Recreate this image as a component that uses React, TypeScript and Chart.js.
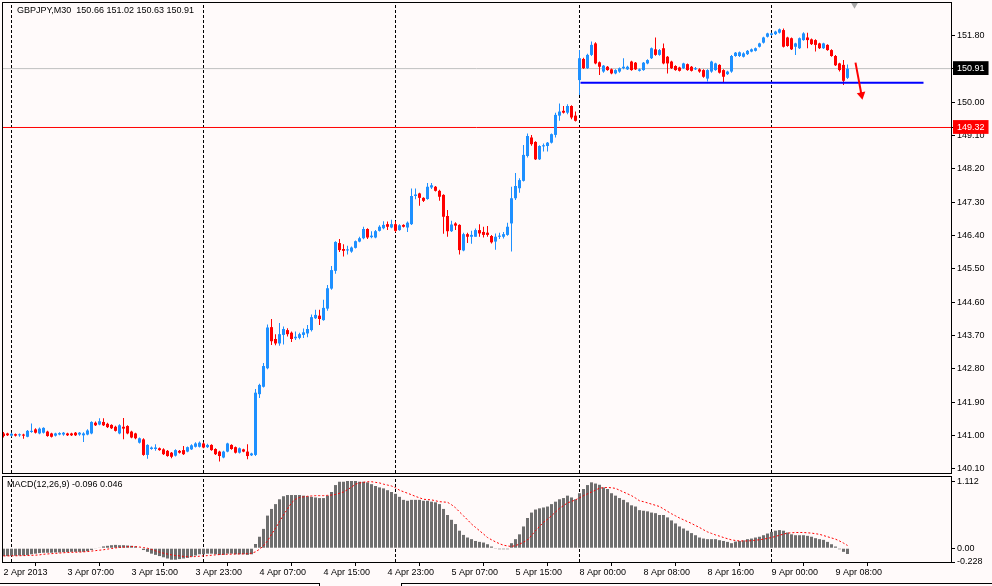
import React, { useEffect, useRef } from "react";
import { Chart, registerables } from "chart.js";

Chart.register(...registerables);

// ---------------- DATA ----------------
const opens = [
  141.06, 141.06, 141.00, 141.04, 141.01, 141.03, 140.97, 141.10, 141.17, 141.06,
  141.08, 141.11, 141.06, 141.00, 141.03, 141.03, 141.06, 141.06, 141.08, 141.03,
  141.01, 141.03, 141.06, 141.35, 141.30, 141.37, 141.32, 141.29, 141.24, 141.06,
  141.24, 141.26, 141.11, 141.06, 140.81, 140.90, 140.48, 140.64, 140.64, 140.66,
  140.63, 140.59, 140.54, 140.46, 140.59, 140.61, 140.57, 140.63, 140.70, 140.70,
  140.79, 140.69, 140.75, 140.64, 140.57, 140.41, 140.57, 140.75, 140.69, 140.54,
  140.63, 140.57, 140.47, 140.48, 142.12, 142.32, 142.82, 143.93, 143.61, 143.49,
  143.72, 143.85, 143.78, 143.63, 143.64, 143.72, 143.76, 143.85, 144.17, 144.24,
  144.12, 144.43, 144.97, 145.45, 146.20, 146.04, 146.00, 145.97, 146.07, 146.24,
  146.33, 146.58, 146.36, 146.35, 146.53, 146.60, 146.71, 146.62, 146.71, 146.55,
  146.69, 146.62, 146.71, 147.47, 147.54, 147.42, 147.39, 147.70, 147.72, 147.61,
  147.50, 146.93, 146.52, 146.73, 146.69, 146.00, 146.44, 146.37, 146.37, 146.55,
  146.50, 146.48, 146.39, 146.24, 146.37, 146.37, 146.42, 146.73, 147.41, 147.68,
  147.88, 148.55, 149.05, 148.93, 148.46, 148.81, 148.82, 148.91, 149.12, 149.64,
  149.77, 149.72, 149.90, 149.64, 150.60, 151.17, 150.92, 151.28, 151.59, 151.08,
  150.83, 150.96, 150.89, 150.78, 150.83, 150.92, 150.89, 151.10, 151.07, 150.85,
  150.87, 151.05, 151.19, 151.43, 151.28, 151.46, 151.23, 151.10, 150.98, 150.94,
  150.92, 151.03, 150.96, 150.89, 150.89, 150.87, 150.64, 150.83, 150.87, 151.01,
  150.87, 150.76, 150.83, 151.25, 151.25, 151.23, 151.30, 151.37, 151.39, 151.50,
  151.61, 151.77, 151.82, 151.84, 151.88, 151.95, 151.75, 151.73, 151.50, 151.46,
  151.68, 151.75, 151.70, 151.68, 151.59, 151.46, 151.55, 151.41, 151.25, 151.05,
  151.01, 150.66,
];
const highs = [
  141.10, 141.08, 141.08, 141.06, 141.06, 141.05, 141.15, 141.33, 141.20, 141.22,
  141.23, 141.13, 141.08, 141.08, 141.09, 141.10, 141.08, 141.08, 141.10, 141.10,
  141.09, 141.17, 141.39, 141.38, 141.47, 141.47, 141.35, 141.31, 141.27, 141.31,
  141.48, 141.28, 141.13, 141.08, 140.95, 140.93, 140.77, 140.71, 140.77, 140.68,
  140.66, 140.61, 140.56, 140.63, 140.61, 140.72, 140.71, 140.77, 140.82, 140.84,
  140.82, 140.78, 140.77, 140.66, 140.59, 140.59, 140.81, 140.77, 140.71, 140.68,
  140.65, 140.77, 140.54, 142.26, 142.40, 142.96, 144.00, 144.15, 143.74, 144.04,
  143.95, 143.90, 143.81, 143.81, 143.78, 143.89, 143.99, 144.27, 144.40, 144.40,
  144.67, 145.07, 145.58, 146.25, 146.31, 146.17, 146.13, 146.11, 146.27, 146.37,
  146.64, 146.60, 146.52, 146.55, 146.68, 146.79, 146.78, 146.83, 146.79, 146.71,
  146.71, 146.78, 147.67, 147.67, 147.56, 147.44, 147.82, 147.82, 147.74, 147.64,
  147.52, 147.09, 146.80, 146.76, 146.71, 146.48, 146.48, 146.53, 146.59, 146.71,
  146.64, 146.66, 146.42, 146.46, 146.48, 146.50, 146.75, 147.72, 148.09, 147.95,
  148.85, 149.16, 149.12, 148.95, 148.84, 148.89, 148.93, 149.16, 149.72, 149.97,
  149.90, 149.95, 149.92, 149.75, 151.41, 151.20, 151.31, 151.64, 151.62, 151.10,
  151.01, 150.98, 150.91, 150.89, 150.94, 151.19, 150.99, 151.12, 151.09, 150.91,
  151.09, 151.16, 151.48, 151.75, 151.44, 151.59, 151.25, 151.12, 151.00, 150.96,
  151.07, 151.05, 150.98, 150.95, 150.92, 150.89, 150.89, 151.12, 151.07, 151.03,
  150.89, 150.85, 151.28, 151.36, 151.37, 151.35, 151.41, 151.45, 151.48, 151.61,
  151.77, 151.88, 151.88, 151.93, 151.99, 151.99, 151.77, 151.75, 151.61, 151.75,
  151.89, 151.88, 151.72, 151.70, 151.61, 151.61, 151.57, 151.43, 151.28, 151.07,
  151.14, 151.02,
];
const lows = [
  140.95, 140.99, 140.98, 140.98, 140.97, 140.92, 140.96, 141.08, 141.06, 141.04,
  141.06, 140.97, 140.95, 140.98, 141.01, 141.00, 140.99, 140.99, 140.99, 141.00,
  140.83, 141.01, 141.04, 141.26, 141.28, 141.26, 141.21, 141.18, 141.11, 141.04,
  140.90, 141.04, 140.93, 140.90, 140.79, 140.46, 140.38, 140.62, 140.59, 140.59,
  140.48, 140.43, 140.39, 140.44, 140.52, 140.48, 140.55, 140.61, 140.68, 140.68,
  140.66, 140.67, 140.59, 140.48, 140.30, 140.39, 140.55, 140.62, 140.52, 140.52,
  140.55, 140.36, 140.45, 140.45, 142.02, 142.30, 142.79, 143.45, 143.44, 143.43,
  143.46, 143.68, 143.53, 143.58, 143.60, 143.64, 143.66, 143.81, 144.15, 143.99,
  144.10, 144.37, 144.94, 145.37, 145.96, 145.84, 145.89, 145.94, 146.05, 146.22,
  146.30, 146.31, 146.33, 146.33, 146.51, 146.57, 146.55, 146.60, 146.50, 146.53,
  146.62, 146.50, 146.69, 147.38, 147.21, 147.31, 147.37, 147.66, 147.59, 147.34,
  146.45, 146.37, 146.50, 146.55, 145.89, 145.98, 146.20, 146.18, 146.37, 146.37,
  146.35, 146.37, 146.19, 146.02, 146.31, 146.32, 146.40, 145.97, 147.36, 147.56,
  147.86, 148.51, 148.83, 148.44, 148.44, 148.67, 148.67, 148.89, 149.05, 149.50,
  149.70, 149.68, 149.54, 149.48, 150.20, 150.90, 150.90, 151.25, 151.03, 150.74,
  150.80, 150.85, 150.76, 150.76, 150.80, 150.89, 150.87, 150.85, 150.87, 150.83,
  150.85, 151.03, 151.17, 151.26, 151.26, 151.03, 150.78, 150.90, 150.85, 150.83,
  150.90, 150.85, 150.83, 150.87, 150.80, 150.66, 150.56, 150.80, 150.85, 150.78,
  150.55, 150.74, 150.80, 151.23, 151.22, 151.21, 151.28, 151.35, 151.37, 151.48,
  151.59, 151.75, 151.80, 151.82, 151.86, 151.48, 151.50, 151.41, 151.28, 151.44,
  151.66, 151.46, 151.55, 151.37, 151.44, 151.44, 151.39, 151.23, 150.98, 150.83,
  150.47, 150.63,
];
const closes = [
  140.99, 141.01, 141.05, 141.00, 141.03, 141.00, 141.13, 141.13, 141.08, 141.19,
  141.21, 140.99, 140.97, 141.06, 141.07, 141.08, 141.01, 141.01, 141.01, 141.08,
  141.06, 141.14, 141.37, 141.28, 141.39, 141.28, 141.23, 141.20, 141.13, 141.28,
  141.19, 141.06, 140.95, 140.93, 140.93, 140.48, 140.75, 140.68, 140.68, 140.61,
  140.50, 140.45, 140.43, 140.61, 140.54, 140.50, 140.69, 140.74, 140.79, 140.81,
  140.68, 140.75, 140.61, 140.50, 140.45, 140.57, 140.79, 140.64, 140.54, 140.66,
  140.57, 140.45, 140.52, 142.16, 142.37, 142.88, 143.92, 143.55, 143.49, 143.74,
  143.88, 143.74, 143.61, 143.67, 143.74, 143.79, 143.88, 144.20, 144.26, 144.15,
  144.45, 144.98, 145.47, 146.23, 146.01, 145.99, 146.03, 146.08, 146.25, 146.33,
  146.58, 146.35, 146.40, 146.52, 146.64, 146.69, 146.64, 146.71, 146.53, 146.68,
  146.64, 146.75, 147.47, 147.51, 147.42, 147.34, 147.72, 147.76, 147.61, 147.45,
  146.91, 146.52, 146.70, 146.67, 146.01, 146.44, 146.37, 146.42, 146.55, 146.46,
  146.42, 146.42, 146.22, 146.37, 146.40, 146.44, 146.64, 147.41, 147.74, 147.90,
  148.58, 149.09, 148.87, 148.46, 148.82, 148.84, 148.91, 149.14, 149.66, 149.75,
  149.72, 149.90, 149.59, 149.50, 151.19, 150.92, 151.28, 151.55, 151.05, 150.96,
  150.99, 150.87, 150.78, 150.87, 150.92, 150.96, 150.96, 150.87, 150.89, 150.89,
  151.07, 151.14, 151.46, 151.28, 151.41, 151.05, 151.05, 150.92, 150.87, 150.85,
  151.05, 150.87, 150.85, 150.92, 150.83, 150.69, 150.87, 151.10, 151.05, 150.80,
  150.69, 150.83, 151.25, 151.34, 151.35, 151.32, 151.39, 151.43, 151.46, 151.59,
  151.75, 151.86, 151.86, 151.91, 151.97, 151.50, 151.52, 151.43, 151.59, 151.73,
  151.86, 151.68, 151.57, 151.55, 151.46, 151.59, 151.41, 151.25, 151.00, 150.87,
  150.58, 150.91,
];

const macdMain = [
  -0.13, -0.13, -0.125, -0.125, -0.12, -0.12, -0.115, -0.10, -0.09, -0.08,
  -0.075, -0.075, -0.075, -0.07, -0.07, -0.065, -0.065, -0.06, -0.06, -0.06,
  -0.06, -0.05, -0.03, -0.01, 0.01, 0.03, 0.04, 0.05, 0.055, 0.05,
  0.05, 0.045, 0.04, 0.03, 0.01, -0.03, -0.06, -0.09, -0.11, -0.13,
  -0.15, -0.17, -0.19, -0.19, -0.18, -0.17, -0.16, -0.14, -0.12, -0.10,
  -0.10, -0.09, -0.09, -0.10, -0.11, -0.11, -0.09, -0.09, -0.10, -0.10,
  -0.10, -0.11, -0.10, 0.07, 0.19, 0.32, 0.54, 0.65, 0.73, 0.81,
  0.86, 0.88, 0.88, 0.88, 0.88, 0.87, 0.86, 0.85, 0.84, 0.83,
  0.83, 0.87, 0.93, 1.045, 1.10, 1.10, 1.112, 1.112, 1.112, 1.10,
  1.10, 1.09, 1.06, 1.03, 1.006, 0.99, 0.96, 0.93, 0.90, 0.85,
  0.80, 0.785, 0.80, 0.80, 0.80, 0.785, 0.785, 0.77, 0.76, 0.73,
  0.65, 0.55, 0.47, 0.40, 0.29, 0.22, 0.177, 0.15, 0.12, 0.105,
  0.094, 0.066, 0.028, -0.005, -0.017, -0.017, -0.017, 0.083, 0.15, 0.23,
  0.36, 0.50, 0.59, 0.64, 0.66, 0.674, 0.69, 0.73, 0.77, 0.81,
  0.83, 0.87, 0.84, 0.81, 0.91, 0.98, 1.045, 1.09, 1.07, 1.05,
  1.006, 0.98, 0.91, 0.87, 0.83, 0.80, 0.76, 0.71, 0.69, 0.63,
  0.62, 0.61, 0.59, 0.58, 0.55, 0.55, 0.51, 0.46, 0.41, 0.36,
  0.326, 0.29, 0.25, 0.215, 0.177, 0.16, 0.15, 0.15, 0.15, 0.133,
  0.12, 0.105, 0.083, 0.11, 0.12, 0.13, 0.15, 0.16, 0.177, 0.19,
  0.215, 0.243, 0.27, 0.29, 0.30, 0.29, 0.26, 0.23, 0.215, 0.215,
  0.215, 0.205, 0.19, 0.166, 0.15, 0.138, 0.105, 0.066, 0.028, -0.017,
  -0.06, -0.096,
];
const macdSignal = [
  -0.127, -0.127, -0.126, -0.125, -0.124, -0.122, -0.12, -0.118, -0.115, -0.11,
  -0.10, -0.095, -0.09, -0.085, -0.08, -0.075, -0.07, -0.068, -0.066, -0.064,
  -0.06, -0.055, -0.048, -0.04, -0.033, -0.025, -0.015, -0.005, 0.005, 0.012,
  0.018, 0.024, 0.028, 0.027, 0.02, 0.01, 0.0, -0.02, -0.044, -0.065,
  -0.083, -0.097, -0.11, -0.12, -0.127, -0.135, -0.14, -0.14, -0.138, -0.132,
  -0.127, -0.122, -0.116, -0.11, -0.105, -0.1, -0.1, -0.098, -0.096, -0.095,
  -0.094, -0.09, -0.083, -0.06, -0.017, 0.04, 0.12, 0.23, 0.33, 0.44,
  0.55, 0.65, 0.75, 0.81, 0.84, 0.85, 0.86, 0.865, 0.87, 0.87,
  0.87, 0.875, 0.88, 0.89, 0.91, 0.93, 0.97, 1.01, 1.06, 1.08,
  1.09, 1.10, 1.10, 1.09, 1.08, 1.06, 1.045, 1.03, 1.00, 0.96,
  0.935, 0.91, 0.885, 0.857, 0.835, 0.81, 0.805, 0.80, 0.785, 0.77,
  0.765, 0.76, 0.72, 0.67, 0.60, 0.536, 0.47, 0.40, 0.345, 0.29,
  0.235, 0.177, 0.14, 0.105, 0.075, 0.05, 0.038, 0.028, 0.045, 0.066,
  0.10, 0.138, 0.21, 0.29, 0.36, 0.43, 0.48, 0.536, 0.60, 0.66,
  0.705, 0.75, 0.775, 0.80, 0.835, 0.87, 0.90, 0.93, 0.96, 0.995,
  1.0, 1.006, 1.0, 0.99, 0.96, 0.93, 0.90, 0.87, 0.83, 0.785,
  0.77, 0.75, 0.73, 0.71, 0.69, 0.65, 0.61, 0.57, 0.536, 0.50,
  0.47, 0.44, 0.41, 0.375, 0.343, 0.305, 0.27, 0.245, 0.22, 0.20,
  0.177, 0.157, 0.138, 0.128, 0.12, 0.12, 0.12, 0.125, 0.133, 0.14,
  0.15, 0.163, 0.177, 0.195, 0.215, 0.233, 0.25, 0.255, 0.26, 0.26,
  0.26, 0.255, 0.25, 0.24, 0.23, 0.21, 0.19, 0.17, 0.15, 0.12,
  0.085, 0.046,
];

const priceTicks = [140.1, 141.0, 141.9, 142.8, 143.7, 144.6, 145.5, 146.4, 147.3, 148.2, 149.1, 150.0, 150.9, 151.8];
const bidPrice = 150.91;
const markPrice = 149.32;
const macdTicks = [1.112, 0, -0.228];
const macdTickText = ["1.112", "0.00", "-0.228"];
const timeTickIndex = [0, 16, 32, 48, 64, 80, 96, 112, 128, 144, 160, 176, 192, 208];
const timeTickText = [
  "2 Apr 2013", "3 Apr 07:00", "3 Apr 15:00", "3 Apr 23:00", "4 Apr 07:00", "4 Apr 15:00",
  "4 Apr 23:00", "5 Apr 07:00", "5 Apr 15:00", "8 Apr 00:00", "8 Apr 08:00", "8 Apr 16:00",
  "9 Apr 00:00", "9 Apr 08:00",
];
const daySeparators = [2, 50, 98, 144, 192];
// user-drawn objects (bar index, price)
const supportStart = 144.25;
const supportEnd = 230;
const supportPrice = 150.53;
const arrowStart = [213, 151.07];
const arrowEnd = [214.5, 150.2];
const shiftMarker = [212.75, 152.66];

// ---------------- STYLE ----------------
const X_MIN = -0.375;
const X_MAX = 236.875;
const P_MIN = 139.992;
const P_MAX = 152.708;
const M_MIN = -0.228;
const M_MAX = 1.195;
const UP = "#1e90ff";
const DOWN = "#ff0000";
const FONT = { family: "'Liberation Sans', Arial, sans-serif", size: 9 };
const BG = "#fffafa";

const framePlugin = {
  id: "frame",
  afterDraw(chart: any) {
    const { ctx, chartArea } = chart;
    const { left, top, right, bottom } = chartArea;
    ctx.save();
    ctx.strokeStyle = "#000";
    ctx.lineWidth = 1;
    ctx.strokeRect(left + 0.5, top + 0.5, right - left, bottom - top);
    ctx.restore();
  },
};

const textPlugin = (text: string, dx: number, dy: number) => ({
  id: "panelText",
  afterDraw(chart: any) {
    const { ctx, chartArea } = chart;
    ctx.save();
    ctx.font = "9px 'Liberation Sans', Arial, sans-serif";
    ctx.fillStyle = "#000";
    ctx.textBaseline = "top";
    ctx.textAlign = "left";
    ctx.fillText(text, chartArea.left + dx, chartArea.top + dy);
    ctx.restore();
  },
});

const isSpecial = (v: number) => Math.abs(v - bidPrice) < 1e-6 || Math.abs(v - markPrice) < 1e-6;

function separatorSets(yMin: number, yMax: number) {
  return daySeparators.map((s) => ({
    type: "line",
    data: [
      { x: s, y: yMin },
      { x: s, y: yMax },
    ],
    borderColor: "#000",
    borderWidth: 1,
    borderDash: [3, 2],
    pointRadius: 0,
  }));
}

export default function App() {
  const mainRef = useRef<HTMLCanvasElement>(null);
  const macdRef = useRef<HTMLCanvasElement>(null);

  useEffect(() => {
    document.body.style.margin = "0";
    const N = opens.length;
    const idx = opens.map((_, i) => i);
    const colors = idx.map((i) => (closes[i] >= opens[i] ? UP : DOWN));
    const title = `GBPJPY,M30  ${opens[N - 1].toFixed(2)} ${highs[N - 1].toFixed(2)} ${lows[N - 1].toFixed(2)} ${closes[N - 1].toFixed(2)}`;
    const macdTitle = `MACD(12,26,9) ${macdMain[N - 1].toFixed(3)} ${macdSignal[N - 1].toFixed(3)}`;

    const main = new Chart(mainRef.current as HTMLCanvasElement, {
      type: "bar",
      data: {
        datasets: [
          {
            type: "line",
            data: [
              { x: arrowStart[0], y: arrowStart[1] },
              { x: arrowEnd[0], y: arrowEnd[1] },
            ],
            borderColor: "#ff0000",
            borderWidth: 2,
            pointRadius: 0,
          },
          {
            type: "line",
            data: [{ x: arrowEnd[0], y: arrowEnd[1] }],
            showLine: false,
            pointStyle: "triangle",
            pointRadius: 5,
            pointRotation: 169,
            pointBackgroundColor: "#ff0000",
            pointBorderWidth: 0,
          },
          {
            type: "line",
            data: [
              { x: supportStart, y: supportPrice },
              { x: supportEnd, y: supportPrice },
            ],
            borderColor: "#0000ff",
            borderWidth: 2,
            pointRadius: 0,
          },
          {
            type: "bar",
            data: idx.map((i) => ({ x: i, y: [opens[i], closes[i]] })),
            backgroundColor: colors,
            barThickness: 3,
            minBarLength: 1,
            grouped: false,
            inflateAmount: 0,
            borderWidth: 0,
          },
          {
            type: "bar",
            data: idx.map((i) => ({ x: i, y: [lows[i], highs[i]] })),
            backgroundColor: colors,
            barThickness: 1,
            minBarLength: 1,
            grouped: false,
            inflateAmount: 0,
            borderWidth: 0,
          },
          {
            type: "line",
            data: [
              { x: X_MIN, y: bidPrice },
              { x: X_MAX, y: bidPrice },
            ],
            borderColor: "#c0c0c0",
            borderWidth: 1,
            pointRadius: 0,
          },
          {
            type: "line",
            data: [
              { x: X_MIN, y: markPrice },
              { x: X_MAX, y: markPrice },
            ],
            borderColor: "#ff0000",
            borderWidth: 1,
            pointRadius: 0,
          },
          ...separatorSets(P_MIN, P_MAX),
          {
            type: "line",
            data: [{ x: shiftMarker[0], y: shiftMarker[1] }],
            showLine: false,
            pointStyle: "triangle",
            pointRadius: 5,
            pointRotation: 180,
            pointBackgroundColor: "#a8a8a8",
            pointBorderWidth: 0,
          },
        ] as any,
      },
      options: {
        responsive: false,
        animation: false,
        events: [],
        layout: { autoPadding: false, padding: { left: 2, top: 2, right: 0, bottom: 3 } },
        plugins: { legend: { display: false }, tooltip: { enabled: false } },
        scales: {
          x: { type: "linear", min: X_MIN, max: X_MAX, offset: false, display: false, bounds: "data" },
          y: {
            type: "linear",
            position: "right",
            min: P_MIN,
            max: P_MAX,
            bounds: "data",
            afterBuildTicks(s: any) {
              s.ticks = [...priceTicks, bidPrice, markPrice].map((value) => ({ value }));
            },
            afterFit(s: any) {
              s.width = 41;
              s.paddingTop = 0;
              s.paddingBottom = 0;
            },
            grid: { drawOnChartArea: false, tickLength: 4, color: "#000", lineWidth: 1 },
            border: { display: false },
            ticks: {
              autoSkip: false,
              padding: 2,
              font: FONT,
              color: (c: any) => (c.tick && isSpecial(c.tick.value) ? "#ffffff" : "#000000"),
              showLabelBackdrop: (c: any) => !!(c.tick && isSpecial(c.tick.value)),
              backdropColor: (c: any) =>
                c.tick && Math.abs(c.tick.value - bidPrice) < 1e-6 ? "#000000" : "#ff0000",
              backdropPadding: { top: 2, bottom: 1, left: 4, right: 4 },
              callback: (v: any) => Number(v).toFixed(2),
            },
          },
        },
      } as any,
      plugins: [framePlugin, textPlugin(title, 15, 4)],
    });

    const macd = new Chart(macdRef.current as HTMLCanvasElement, {
      type: "bar",
      data: {
        datasets: [
          {
            type: "line",
            data: macdSignal.map((v, i) => ({ x: i, y: v })),
            borderColor: "#ff0000",
            borderWidth: 1,
            borderDash: [2, 2],
            pointRadius: 0,
          },
          {
            type: "bar",
            data: macdMain.map((v, i) => ({ x: i, y: v })),
            backgroundColor: "#6e6e6e",
            barThickness: 3,
            grouped: false,
            inflateAmount: 0,
            borderWidth: 0,
          },
          ...separatorSets(M_MIN, M_MAX),
        ] as any,
      },
      options: {
        responsive: false,
        animation: false,
        events: [],
        layout: { autoPadding: false, padding: { left: 2, top: 0, right: 0, bottom: 0 } },
        plugins: { legend: { display: false }, tooltip: { enabled: false } },
        scales: {
          x: {
            type: "linear",
            position: "bottom",
            min: X_MIN,
            max: X_MAX,
            offset: false,
            bounds: "data",
            afterBuildTicks(s: any) {
              s.ticks = timeTickIndex.map((value) => ({ value }));
            },
            afterFit(s: any) {
              s.height = 24;
              s.paddingLeft = 0;
              s.paddingRight = 0;
            },
            grid: { drawOnChartArea: false, tickLength: 4, color: "#000", lineWidth: 1 },
            border: { display: false },
            ticks: {
              autoSkip: false,
              maxRotation: 0,
              minRotation: 0,
              align: "start",
              padding: 1,
              font: FONT,
              color: "#000",
              callback: (_v: any, i: number) => timeTickText[i],
            },
          },
          y: {
            type: "linear",
            position: "right",
            min: M_MIN,
            max: M_MAX,
            bounds: "data",
            afterBuildTicks(s: any) {
              s.ticks = macdTicks.map((value) => ({ value }));
            },
            afterFit(s: any) {
              s.width = 41;
              s.paddingTop = 0;
              s.paddingBottom = 0;
            },
            grid: { drawOnChartArea: false, tickLength: 4, color: "#000", lineWidth: 1 },
            border: { display: false },
            ticks: {
              autoSkip: false,
              padding: 2,
              font: FONT,
              color: "#000",
              callback: (_v: any, i: number) => macdTickText[i],
            },
          },
        },
      } as any,
      plugins: [framePlugin, textPlugin(macdTitle, 5, 4)],
    });

    return () => {
      main.destroy();
      macd.destroy();
    };
  }, []);

  return (
    <div
      style={{
        position: "fixed",
        left: 0,
        top: 0,
        width: 992,
        height: 586,
        background: BG,
        overflow: "hidden",
      }}
    >
      <canvas ref={mainRef} width={992} height={476} style={{ position: "absolute", left: 0, top: 0, display: "block" }} />
      <canvas ref={macdRef} width={992} height={110} style={{ position: "absolute", left: 0, top: 476, display: "block" }} />
      <div style={{ position: "absolute", left: 0, top: 583, width: 319, height: 1, background: "#000" }} />
      <div style={{ position: "absolute", left: 319, top: 583, width: 1, height: 3, background: "#000" }} />
      <div style={{ position: "absolute", left: 401, top: 583, width: 591, height: 1, background: "#000" }} />
      <div style={{ position: "absolute", left: 401, top: 583, width: 1, height: 3, background: "#000" }} />
    </div>
  );
}
